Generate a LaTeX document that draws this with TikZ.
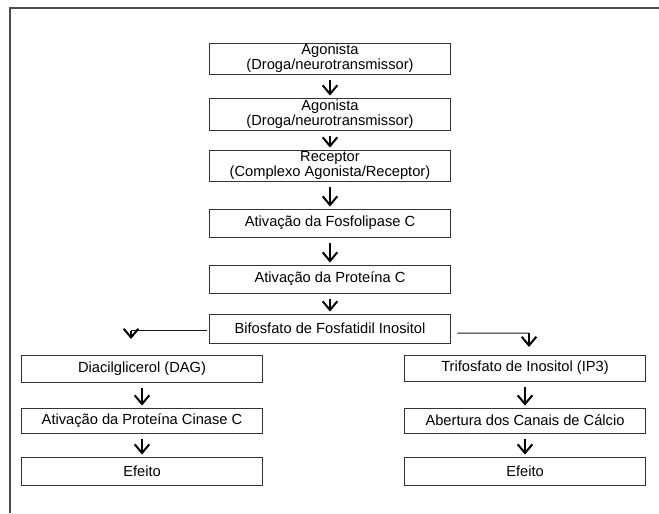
\documentclass[tikz,border=0pt]{standalone}
\usepackage{fontspec}
\setmainfont{Liberation Sans}
\usetikzlibrary{arrows.meta}

\begin{document}
\begin{tikzpicture}[x=0.75pt,y=-0.75pt,
  box/.style={draw=black!80,line width=0.7pt,minimum width=180.5pt,inner sep=0pt,align=center,font=\fontsize{11pt}{9.5pt}\selectfont},
  arr/.style={-{Straight Barb[length=6.5pt,width=11pt]},line width=1.5pt,shorten <=4.5pt,shorten >=1.5pt},
  branch/.style={line width=0.75pt,black!90},
  frame/.style={line width=1.6pt,black!70}]
  \useasboundingbox (0,0) rectangle (659,513);
  \draw[frame] (10,513) -- (10,8) -- (659,8);
  % main column
  \node[box,minimum height=23.25pt] (ag1) at (330,58.5) {Agonista\\(Droga/neurotransmissor)};
  \node[box,minimum height=24pt] (ag2) at (330,114) {Agonista\\(Droga/neurotransmissor)};
  \node[box,minimum height=23.25pt] (rec) at (330,165.5) {Receptor\\(Complexo Agonista/Receptor)};
  \node[box,minimum height=21pt] (fos) at (330,223) {Ativação da Fosfolipase C};
  \node[box,minimum height=21pt] (prot) at (330,279) {Ativação da Proteína C};
  \node[box,minimum height=21.75pt] (bif) at (330,328.5) {Bifosfato de Fosfatidil Inositol};
  % left branch
  \node[box,minimum height=20.25pt] (dag) at (142,368.5) {Diacilglicerol (DAG)};
  \node[box,minimum height=18.75pt] (pkc) at (142,420.5) {Ativação da Proteína Cinase C};
  \node[box,minimum height=21pt] (ef1) at (142,471) {Efeito};
  % right branch
  \node[box,minimum height=19.5pt] (ip3) at (525,368) {Trifosfato de Inositol (IP3)};
  \node[box,minimum height=18.75pt] (cal) at (525,420.5) {Abertura dos Canais de Cálcio};
  \node[box,minimum height=21pt] (ef2) at (525,471) {Efeito};
  \foreach \a/\b in {ag1/ag2,ag2/rec,rec/fos,fos/prot,prot/bif,dag/pkc,pkc/ef1,ip3/cal,cal/ef2}
    \draw[arr] (\a.south) -- (\b.north);
  % split
  \coordinate (dagin) at (131,330.5); \coordinate (dagtip) at (131,339);
  \coordinate (ip3in) at (529,333); \coordinate (ip3tip) at (529,347);
  \draw[branch] ([xshift=-2pt,yshift=-1.5pt]bif.west) -- (dagin);
  \draw[branch] ([xshift=5pt,yshift=-3.4pt]bif.east) -- (ip3in);
  \draw[arr,shorten <=0pt,shorten >=0pt] (dagin) -- (dagtip);
  \draw[arr,shorten <=0pt,shorten >=0pt] (ip3in) -- (ip3tip);
\end{tikzpicture}
\end{document}
